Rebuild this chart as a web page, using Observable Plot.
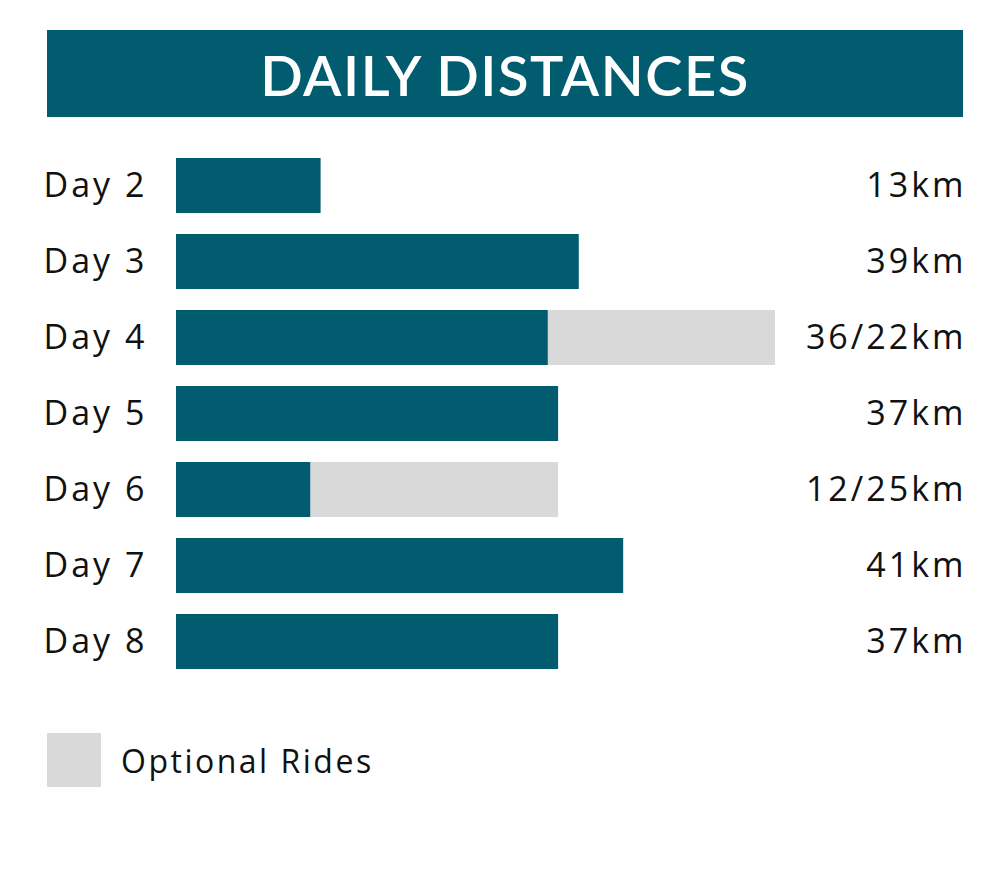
<!DOCTYPE html>
<html>
<head>
<meta charset="utf-8">
<script src="https://cdn.jsdelivr.net/npm/d3@7"></script>
<script src="https://cdn.jsdelivr.net/npm/@observablehq/plot@0.6"></script>
<style>
  html, body { margin: 0; padding: 0; background: #fff; }
  body { width: 1000px; height: 877px; font-family: "Open Sans", Lato, sans-serif; position: relative; overflow: hidden; }
  #title { position: absolute; left: 47px; top: 30px; width: 916px; height: 87px; background: #025c6f;
           color: #fff; font-family: Lato, sans-serif; font-size: 56px; font-weight: 600; text-align: center; line-height: 89px; letter-spacing: 1.5px; }
  #chart { position: absolute; left: 0; top: 117px; }
  #legend { position: absolute; left: 47px; top: 733px; display: flex; align-items: center; }
  #legend .sw { width: 54px; height: 54px; background: #d9d9d9; }
  #legend span { margin-left: 20px; font-size: 32px; color: #111; letter-spacing: 2.5px; }
</style>
</head>
<body>
<div id="title">DAILY DISTANCES</div>
<div id="chart"></div>
<div id="legend"><div class="sw"></div><span>Optional Rides</span></div>
<script>
const days = ["Day 2", "Day 3", "Day 4", "Day 5", "Day 6", "Day 7", "Day 8"];
// bar lengths as drawn in the picture (km)
const mainKm = [14, 39, 36, 37, 13, 43.3, 37];
const optionalKm = [0, 0, 22, 0, 24, 0, 0];
const valueLabels = ["13km", "39km", "36/22km", "37km", "12/25km", "41km", "37km"];

const rows = days.map((d, i) => ({
  day: d, main: mainKm[i], opt: optionalKm[i], total: mainKm[i] + optionalKm[i], label: valueLabels[i]
}));

const teal = "#025c6f";
const grey = "#d9d9d9";

const plot = Plot.plot({
  width: 1000,
  height: 600,
  marginLeft: 176,
  marginRight: 225,
  marginTop: 18.6,
  marginBottom: 25.6,
  x: { domain: [0, 58], axis: null },
  y: { domain: days, axis: null, padding: 0.28 },
  style: { fontFamily: "'Open Sans', Lato, sans-serif", color: "#111", letterSpacing: "3px" },
  marks: [
    Plot.barX(rows.filter(d => d.opt > 0), { x1: "main", x2: "total", y: "day", fill: grey }),
    Plot.barX(rows, { x1: 0, x2: "main", y: "day", fill: teal }),
    Plot.text(rows, { y: "day", text: "day", frameAnchor: "left", textAnchor: "start", dx: -133, fontSize: 34, fill: "#111" }),
    Plot.text(rows, { y: "day", text: "label", frameAnchor: "right", textAnchor: "end", dx: 191, fontSize: 34, fill: "#111" })
  ]
});
document.getElementById("chart").appendChild(plot);
</script>
</body>
</html>
